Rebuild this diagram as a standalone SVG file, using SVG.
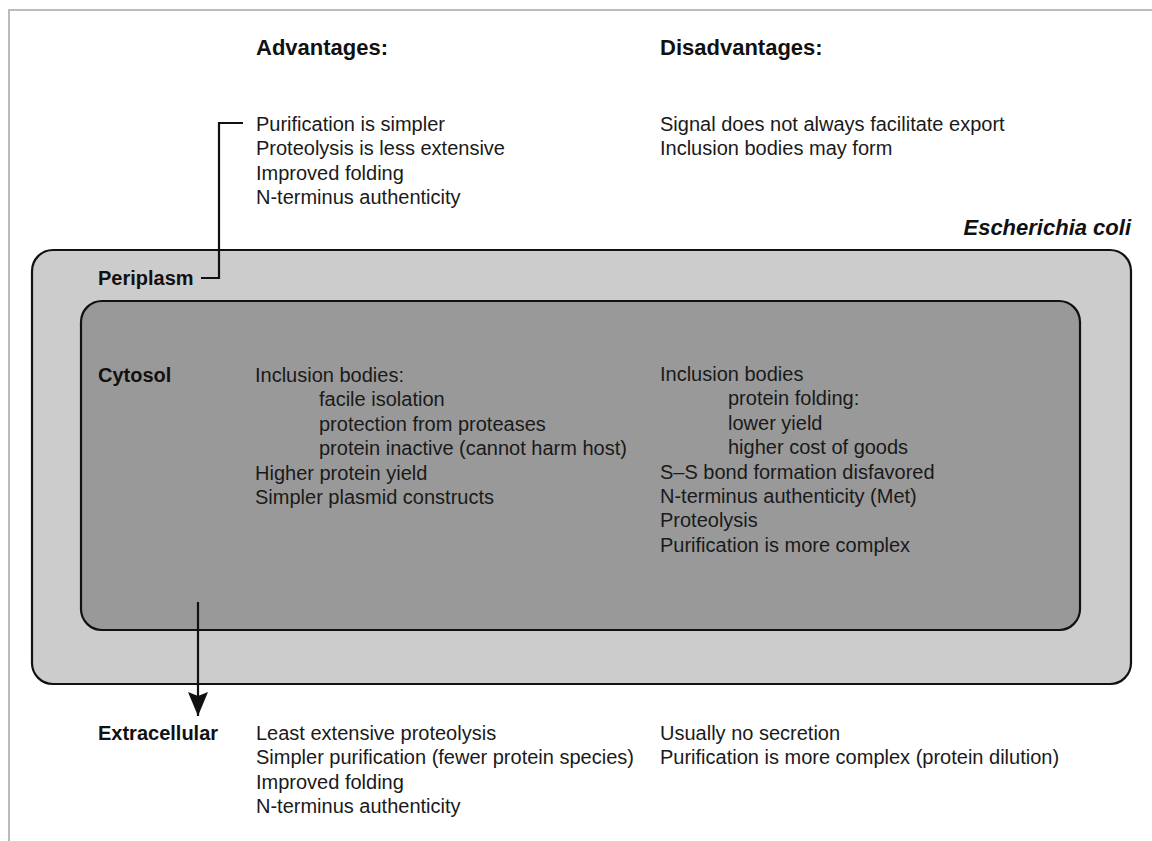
<svg xmlns="http://www.w3.org/2000/svg" width="1152" height="841" viewBox="0 0 1152 841">
<style>
.t{font-family:"Liberation Sans",Arial,sans-serif;font-size:20px;fill:#1a1a1a}
.b{font-family:"Liberation Sans",Arial,sans-serif;font-size:20px;font-weight:bold;fill:#111}
.h{font-family:"Liberation Sans",Arial,sans-serif;font-size:22px;font-weight:bold;fill:#111}
.ln{fill:none;stroke:#111;stroke-width:2.2}
</style>
<defs>
<marker id="arr" viewBox="0 0 24 20" refX="24" refY="10" markerWidth="24" markerHeight="20" markerUnits="userSpaceOnUse" orient="auto">
<path d="M0,0 L4,10 L0,20 L24,10 Z" fill="#111"/>
</marker>
</defs>
<rect width="1152" height="841" fill="#fff"/>
<path d="M9,841 V10 H1152" fill="none" stroke="#bbb" stroke-width="2"/>
<g id="ecoli">
<rect x="32" y="250" width="1099" height="434" rx="21" fill="#ccc" stroke="#111" stroke-width="2.2"/>
<text class="h" x="1131" y="235" text-anchor="end" font-style="italic">Escherichia coli</text>
</g>
<g id="cytosol">
<rect x="81" y="301" width="999" height="329" rx="21" fill="#999" stroke="#111" stroke-width="2.2"/>
<text class="b" x="98" y="382">Cytosol</text>
<text class="t" x="255" y="382">Inclusion bodies:</text>
<text class="t" x="319" y="406.4">facile isolation</text>
<text class="t" x="319" y="430.8">protection from proteases</text>
<text class="t" x="319" y="455.2">protein inactive (cannot harm host)</text>
<text class="t" x="255" y="479.6">Higher protein yield</text>
<text class="t" x="255" y="504">Simpler plasmid constructs</text>
<text class="t" x="660" y="381">Inclusion bodies</text>
<text class="t" x="728" y="405.4">protein folding:</text>
<text class="t" x="728" y="429.8">lower yield</text>
<text class="t" x="728" y="454.2">higher cost of goods</text>
<text class="t" x="660" y="478.6">S–S bond formation disfavored</text>
<text class="t" x="660" y="503">N-terminus authenticity (Met)</text>
<text class="t" x="660" y="527.4">Proteolysis</text>
<text class="t" x="660" y="551.8">Purification is more complex</text>
</g>
<g id="headings">
<text class="h" x="256" y="55">Advantages:</text>
<text class="h" x="660" y="55">Disadvantages:</text>
</g>
<g id="periplasm">
<text class="b" x="98" y="285">Periplasm</text>
<text class="t" x="256" y="131">Purification is simpler</text>
<text class="t" x="256" y="155.4">Proteolysis is less extensive</text>
<text class="t" x="256" y="179.8">Improved folding</text>
<text class="t" x="256" y="204.2">N-terminus authenticity</text>
<text class="t" x="660" y="131">Signal does not always facilitate export</text>
<text class="t" x="660" y="155.4">Inclusion bodies may form</text>
</g>
<g id="extracellular">
<text class="b" x="98" y="740">Extracellular</text>
<text class="t" x="256" y="740">Least extensive proteolysis</text>
<text class="t" x="256" y="764.4">Simpler purification (fewer protein species)</text>
<text class="t" x="256" y="788.8">Improved folding</text>
<text class="t" x="256" y="813.2">N-terminus authenticity</text>
<text class="t" x="660" y="740">Usually no secretion</text>
<text class="t" x="660" y="764.4">Purification is more complex (protein dilution)</text>
</g>
<g id="connectors">
<path class="ln" d="M201,278 H219 V123 H243"/>
<path class="ln" d="M198,602 V716" marker-end="url(#arr)"/>
</g>
</svg>
